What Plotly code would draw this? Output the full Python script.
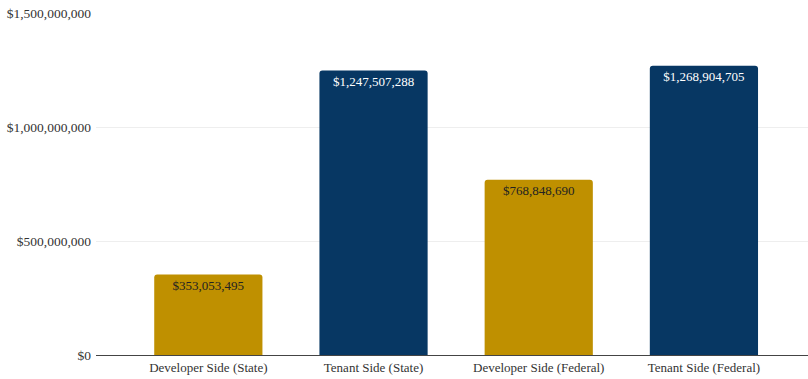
import plotly.graph_objects as go

# Program costs by side and funding source
categories = ["Developer Side (State)", "Tenant Side (State)",
              "Developer Side (Federal)", "Tenant Side (Federal)"]
values = [353053495, 1247507288, 768848690, 1268904705]
y_ticks = [0, 500000000, 1000000000, 1500000000]

gold = "#BF9000"
navy = "#073763"
bar_colors = [gold, navy, gold, navy]
label_colors = ["#222222", "#ffffff", "#222222", "#ffffff"]

font_family = "Liberation Serif, Times New Roman, serif"

fig = go.Figure(
    go.Bar(
        x=categories,
        y=values,
        marker=dict(color=bar_colors, line=dict(width=0), cornerradius=3),
        width=0.655,
        texttemplate="$%{y:,}",
        textposition="inside",
        insidetextanchor="end",
        textangle=0,
        constraintext="none",
        textfont=dict(family=font_family, size=13, color=label_colors),
        hoverinfo="skip",
    )
)

fig.update_layout(
    width=808,
    height=379,
    margin=dict(l=96, r=0, t=13, b=24),
    paper_bgcolor="white",
    plot_bgcolor="white",
    showlegend=False,
    font=dict(family=font_family, size=13, color="#333333"),
    xaxis=dict(
        range=[-0.68, 3.63],
        showgrid=False,
        showline=True,
        linecolor="#444444",
        linewidth=1,
        ticks="",
        tickfont=dict(size=13, color="#333333"),
        automargin=False,
    ),
    yaxis=dict(
        range=[0, 1500000000],
        tickvals=y_ticks,
        tickformat="$,d",
        showgrid=True,
        gridcolor="#eeeeee",
        gridwidth=1,
        zeroline=False,
        showline=False,
        ticks="",
        ticklabelstandoff=4,
        tickfont=dict(size=13.5, color="#333333"),
        automargin=False,
    ),
)

fig.write_html("out.html")
